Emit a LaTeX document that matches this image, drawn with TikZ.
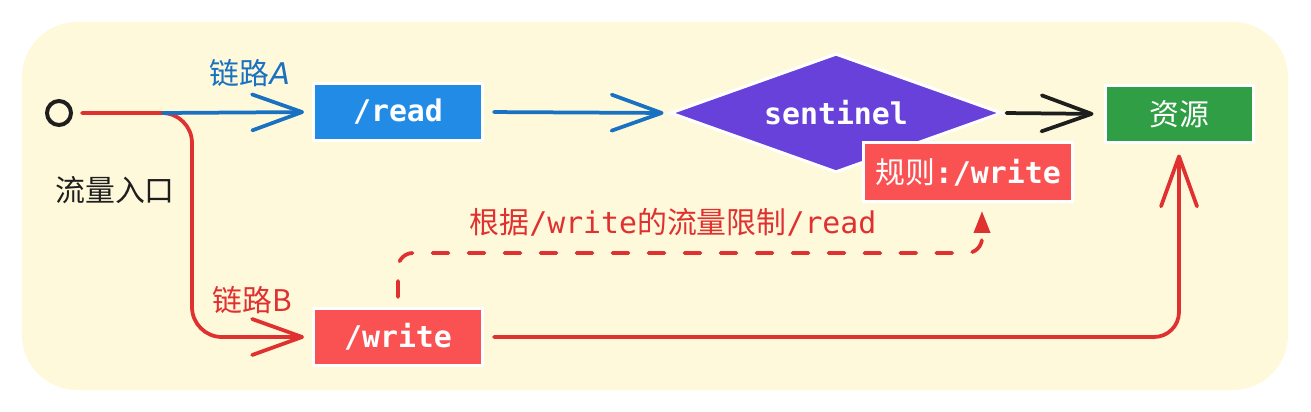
\documentclass[tikz,border=0pt]{standalone}
\usepackage{fontspec}
\setmainfont{Noto Sans CJK SC}
\setmonofont{DejaVu Sans Mono}
\newfontfamily\latinsans{DejaVu Sans}
\usepackage{tikz}
\usetikzlibrary{arrows.meta, shapes.geometric}
\definecolor{bgyellow}{HTML}{FFF9DB}
\definecolor{boxblue}{HTML}{228BE6}
\definecolor{lineblue}{HTML}{1971C2}
\definecolor{boxred}{HTML}{FA5252}
\definecolor{linered}{HTML}{E03131}
\definecolor{boxgreen}{HTML}{2F9E44}
\definecolor{boxpurple}{HTML}{6741D9}
\definecolor{ink}{HTML}{1E1E1E}

\begin{document}
\begin{tikzpicture}[
  x=0.02cm, y=-0.02cm,
  every node/.style={font=\fontsize{17}{20}\selectfont},
  box/.style={rectangle, draw=white, line width=0.06cm, text=white,
    minimum width=3.38cm, minimum height=1.14cm,
    font=\fontsize{17}{20}\selectfont\ttfamily\bfseries},
  flow/.style={line width=0.075cm, line cap=round,
    -{Straight Barb[length=1cm, width=0.72cm, round]}},
  limit/.style={line width=0.075cm, line cap=round, draw=linered,
    dash pattern=on 0.32cm off 0.4cm, rounded corners=0.3cm,
    -{Triangle[length=0.44cm, width=0.32cm]}},
]
  \useasboundingbox (0,0) rectangle (1311,412);
  \fill[bgyellow, rounded corners=1.1cm] (22,22) rectangle (1288,390);

  \node[circle, draw=ink, line width=0.08cm, minimum size=0.48cm, inner sep=0] (entry) at (59,113) {};
  \node[box, fill=boxblue] (read) at (398,112) {/read};
  \node[box, fill=boxred] (write) at (398,337) {/write};
  \node[diamond, aspect=2.79, draw=white, line width=0.06cm, fill=boxpurple, text=white,
    minimum width=6.64cm, minimum height=2.38cm, inner sep=0,
    font=\fontsize{17}{20}\selectfont\ttfamily\bfseries] (sentinel) at (836,113) {sentinel};
  \node[box, fill=boxred, minimum width=4.18cm, minimum height=1.18cm] (rule) at (968,172)
    {{\rmfamily\mdseries 规则}:/write};
  \node[box, fill=boxgreen, minimum width=2.96cm, minimum height=1.16cm] (res) at (1179,114)
    {\rmfamily\mdseries 资源};

  \coordinate (fork) at (192,113);
  \coordinate (splitA) at (163,113);
  \coordinate (bend) at (398,253);

  \node[text=ink] (entrylbl) at (115,190) {流量入口};
  \node[text=lineblue] (lblA) at (250,73) {链路{\latinsans\itshape A}};
  \node[text=linered] (lblB) at (252,300) {链路B};
  \node[text=linered] (lbllimit) at (673,222) {根据\texttt{/write}的流量限制\texttt{/read}};

  \draw[flow, draw=linered, rounded corners=0.6cm, shorten <=0.18cm, shorten >=0.16cm]
    (entry.east) -- (fork) |- (write.west);
  \draw[flow, draw=lineblue, shorten >=0.16cm] (splitA) -- (read.west);
  \draw[flow, draw=lineblue, shorten <=0.2cm, shorten >=0.1cm] (read.east) -- (sentinel.west);
  \draw[flow, draw=ink, shorten <=0.06cm, shorten >=0.2cm] (sentinel.east) -- (res.west);
  \draw[flow, draw=linered, rounded corners=0.5cm, shorten <=0.2cm, shorten >=0.2cm]
    (write.east) -| (res.south);
  \draw[limit, shorten <=0.2cm, shorten >=0.16cm]
    (write.north) -- (bend) -| ([xshift=0.28cm]rule.south);
\end{tikzpicture}
\end{document}
